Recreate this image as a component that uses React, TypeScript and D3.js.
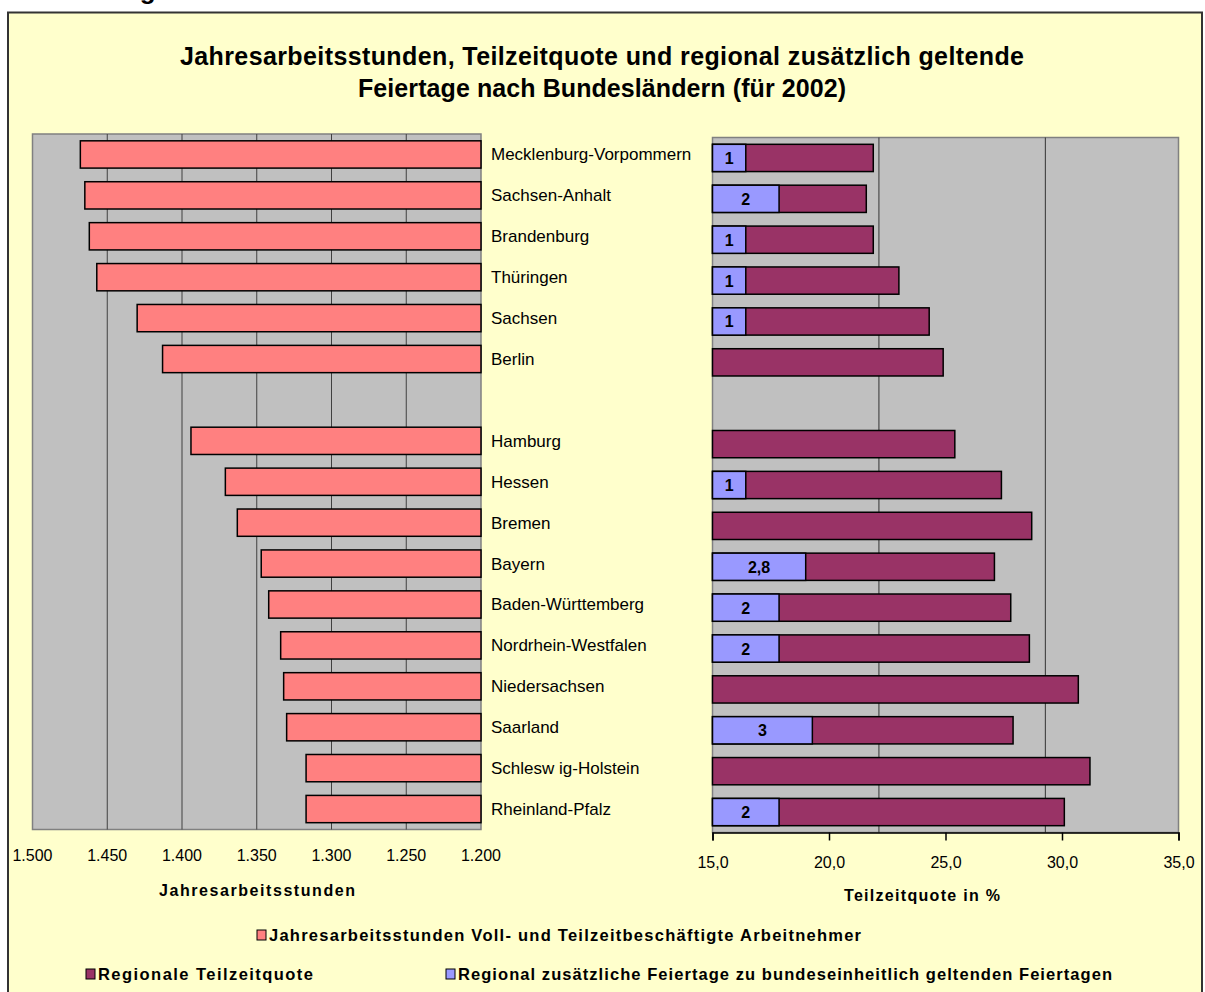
import React, { useEffect, useRef } from 'react'
import * as d3 from 'd3'

// Bundeslaender, oben Ost, unten West (Luecke dazwischen)
const ostLaender = ['Mecklenburg-Vorpommern', 'Sachsen-Anhalt', 'Brandenburg', 'Thüringen', 'Sachsen', 'Berlin']
const westLaender = ['Hamburg', 'Hessen', 'Bremen', 'Bayern', 'Baden-Württemberg', 'Nordrhein-Westfalen',
  'Niedersachsen', 'Saarland', 'Schlesw ig-Holstein', 'Rheinland-Pfalz']

// Jahresarbeitsstunden Voll- und Teilzeitbeschaeftigte
const arbeitsstunden = [1468, 1465, 1462, 1457, 1430, 1413, 1394, 1371, 1363, 1347, 1342, 1334, 1332, 1330, 1317, 1317]
// regionale Teilzeitquote in %
const teilzeitquote = [21.9, 21.6, 21.9, 23.0, 24.3, 24.9, 25.4, 27.4, 28.7, 27.1, 27.8, 28.6, 30.7, 27.9, 31.2, 30.1]
// regional zusaetzliche Feiertage
const feiertage = [1, 2, 1, 1, 1, 0, 0, 1, 0, 2.8, 2, 2, 0, 3, 0, 2]

const stundenTicks = [1500, 1450, 1400, 1350, 1300, 1250, 1200]
const quoteTicks = [15, 20, 25, 30, 35]
const feiertagGrid = [5, 10]

const titel = ['Jahresarbeitsstunden, Teilzeitquote und regional zusätzlich geltende', 'Feiertage nach Bundesländern (für 2002)']
const legende = [
  { text: 'Jahresarbeitsstunden Voll- und Teilzeitbeschäftigte Arbeitnehmer', color: '#FF8080' },
  { text: 'Regionale Teilzeitquote', color: '#993366' },
  { text: 'Regional zusätzliche Feiertage zu bundeseinheitlich geltenden Feiertagen', color: '#9999FF' }
]

const FONT = '"Liberation Sans", Arial, sans-serif'
const GAP = '__luecke'

function App () {
  const ref = useRef<SVGSVGElement>(null)

  useEffect(() => {
    const svg = d3.select(ref.current)
    svg.selectAll('*').remove()

    const width = 1205
    const height = 992
    const de = d3.formatLocale({ decimal: ',', thousands: '.', grouping: [3], currency: ['', '€'] })

    const laender = [...ostLaender, ...westLaender]
    const rows = laender.map((name, i) => ({
      name,
      stunden: arbeitsstunden[i],
      quote: teilzeitquote[i],
      tage: feiertage[i]
    }))
    const domain = [...ostLaender, GAP, ...westLaender]

    svg.attr('width', width).attr('height', height)
      .style('font-family', FONT)

    // cut heading above the chart frame
    svg.append('text')
      .attr('x', 27)
      .attr('y', -1)
      .attr('font-size', 26)
      .attr('font-weight', 'bold')
      .text('Abbildung')

    // frame
    svg.append('rect')
      .attr('x', 8).attr('y', 12.5)
      .attr('width', 1194).attr('height', 1000)
      .attr('fill', '#FFFFCC')
      .attr('stroke', '#333')
      .attr('stroke-width', 2)

    // title
    const titelBreite = [844, 488]
    svg.append('g')
      .selectAll('text')
      .data(titel)
      .enter()
      .append('text')
      .attr('x', 602)
      .attr('y', (d, i) => 65 + i * 32)
      .attr('text-anchor', 'middle')
      .attr('font-size', 25)
      .attr('font-weight', 'bold')
      .attr('textLength', (d, i) => titelBreite[i])
      .attr('lengthAdjust', 'spacing')
      .text(d => d)

    // ---------- left panel: Jahresarbeitsstunden ----------
    const L = { x0: 32.5, x1: 481, y0: 134, y1: 829.5 }
    const xL = d3.scaleLinear().domain([1500, 1200]).range([L.x0, L.x1])
    const yL = d3.scaleBand().domain(domain).range([L.y0, L.y1]).paddingInner(1 / 3).paddingOuter(1 / 6)

    svg.append('rect')
      .attr('x', L.x0).attr('y', L.y0)
      .attr('width', L.x1 - L.x0).attr('height', L.y1 - L.y0)
      .attr('fill', '#C0C0C0')
      .attr('stroke', '#808080')
      .attr('stroke-width', 1.5)

    svg.append('g')
      .selectAll('line')
      .data(stundenTicks.slice(1, -1))
      .enter()
      .append('line')
      .attr('x1', d => xL(d)).attr('x2', d => xL(d))
      .attr('y1', L.y0).attr('y2', L.y1)
      .attr('stroke', '#404040')
      .attr('stroke-width', 1)

    svg.append('g')
      .selectAll('rect')
      .data(rows)
      .enter()
      .append('rect')
      .attr('x', d => xL(d.stunden))
      .attr('y', d => yL(d.name)!)
      .attr('width', d => L.x1 - xL(d.stunden))
      .attr('height', yL.bandwidth())
      .attr('fill', '#FF8080')
      .attr('stroke', '#000')
      .attr('stroke-width', 1.5)

    svg.append('g')
      .selectAll('text')
      .data(stundenTicks)
      .enter()
      .append('text')
      .attr('x', d => xL(d))
      .attr('y', 861)
      .attr('text-anchor', 'middle')
      .attr('font-size', 16)
      .text(d => de.format(',')(d))

    svg.append('text')
      .attr('x', 257)
      .attr('y', 896)
      .attr('text-anchor', 'middle')
      .attr('font-size', 16)
      .attr('font-weight', 'bold')
      .attr('textLength', 196)
      .attr('lengthAdjust', 'spacing')
      .text('Jahresarbeitsstunden')

    // category labels
    svg.append('g')
      .selectAll('text')
      .data(rows)
      .enter()
      .append('text')
      .attr('x', 491)
      .attr('y', d => yL(d.name)! + yL.bandwidth() / 2 + 6)
      .attr('font-size', 17)
      .text(d => d.name)

    // ---------- right panel: Teilzeitquote + Feiertage ----------
    const R = { x0: 712.5, x1: 1178.5, y0: 137.5, y1: 832.5 }
    const xR = d3.scaleLinear().domain([15, 35]).range([R.x0, R.x1])
    const xT = d3.scaleLinear().domain([0, 14]).range([R.x0, R.x1])
    const yR = d3.scaleBand().domain(domain).range([R.y0, R.y1]).paddingInner(1 / 3).paddingOuter(1 / 6)

    svg.append('rect')
      .attr('x', R.x0).attr('y', R.y0)
      .attr('width', R.x1 - R.x0).attr('height', R.y1 - R.y0)
      .attr('fill', '#C0C0C0')
      .attr('stroke', '#808080')
      .attr('stroke-width', 1.5)

    svg.append('g')
      .selectAll('line')
      .data(feiertagGrid)
      .enter()
      .append('line')
      .attr('x1', d => xT(d)).attr('x2', d => xT(d))
      .attr('y1', R.y0).attr('y2', R.y1)
      .attr('stroke', '#333')
      .attr('stroke-width', 1)

    svg.append('g')
      .selectAll('rect')
      .data(rows)
      .enter()
      .append('rect')
      .attr('x', xR(15))
      .attr('y', d => yR(d.name)!)
      .attr('width', d => xR(d.quote) - xR(15))
      .attr('height', yR.bandwidth())
      .attr('fill', '#993366')
      .attr('stroke', '#000')
      .attr('stroke-width', 1.5)

    const mitTagen = rows.filter(d => d.tage > 0)
    svg.append('g')
      .selectAll('rect')
      .data(mitTagen)
      .enter()
      .append('rect')
      .attr('x', xT(0))
      .attr('y', d => yR(d.name)!)
      .attr('width', d => xT(d.tage) - xT(0))
      .attr('height', yR.bandwidth())
      .attr('fill', '#9999FF')
      .attr('stroke', '#000')
      .attr('stroke-width', 1.5)

    svg.append('g')
      .selectAll('text')
      .data(mitTagen)
      .enter()
      .append('text')
      .attr('x', d => (xT(0) + xT(d.tage)) / 2)
      .attr('y', d => yR(d.name)! + yR.bandwidth() / 2 + 6)
      .attr('text-anchor', 'middle')
      .attr('font-size', 16)
      .attr('font-weight', 'bold')
      .text(d => Number.isInteger(d.tage) ? String(d.tage) : de.format('.1f')(d.tage))

    const axisR = svg.append('g')
      .attr('transform', 'translate(0,' + R.y1 + ')')
      .call(d3.axisBottom(xR).tickValues(quoteTicks).tickSize(8).tickFormat(d => de.format('.1f')(d as number)))
    axisR.select('.domain').attr('stroke', '#000').attr('stroke-width', 1.5)
    axisR.selectAll('.tick line').attr('stroke', '#000').attr('stroke-width', 1.5)
    axisR.selectAll('.tick text')
      .attr('y', 24)
      .attr('fill', '#000')
      .style('font-family', FONT)
      .style('font-size', '16px')

    svg.append('text')
      .attr('x', 922)
      .attr('y', 901)
      .attr('text-anchor', 'middle')
      .attr('font-size', 16)
      .attr('font-weight', 'bold')
      .attr('textLength', 156)
      .attr('lengthAdjust', 'spacing')
      .text('Teilzeitquote in %')

    // ---------- legend ----------
    const legPos = [
      { x: 257, y: 935, w: 592 },
      { x: 86, y: 974, w: 215 },
      { x: 446, y: 974, w: 654 }
    ]
    const leg = svg.append('g')
      .selectAll('g')
      .data(legende)
      .enter()
      .append('g')
      .attr('transform', (d, i) => 'translate(' + legPos[i].x + ',' + legPos[i].y + ')')
    leg.append('rect')
      .attr('x', 0).attr('y', -5)
      .attr('width', 9).attr('height', 10)
      .attr('fill', d => d.color)
      .attr('stroke', '#000')
      .attr('stroke-width', 1)
    leg.append('text')
      .attr('x', 12)
      .attr('y', 6)
      .attr('font-size', 16.5)
      .attr('font-weight', 'bold')
      .attr('textLength', (d, i) => legPos[i].w)
      .attr('lengthAdjust', 'spacing')
      .text(d => d.text)
  }, [])

  return (
    <div style={{ position: 'absolute', left: 0, top: 0 }}>
      <svg ref={ref} style={{ display: 'block', overflow: 'hidden' }} />
    </div>
  )
}

export default App
